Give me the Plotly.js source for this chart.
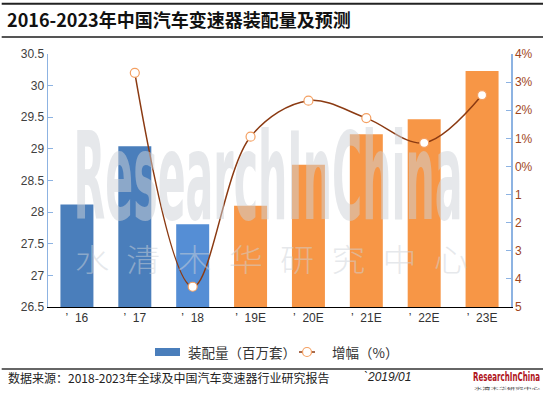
<!DOCTYPE html>
<html>
<head>
<meta charset="utf-8">
<script src="https://cdn.plot.ly/plotly-3.0.1.min.js"></script>
<style>
html,body{margin:0;padding:0;background:#fff;}
#chart{width:543px;height:399px;}
</style>
</head>
<body>
<div id="chart"></div>
<script>
// ---- data ----
var categories = ["’\u00a0\u00a016", "’\u00a0\u00a017", "’\u00a0\u00a018", "’\u00a0\u00a019E", "’\u00a0\u00a020E", "’\u00a0\u00a021E", "’\u00a0\u00a022E", "’\u00a0\u00a023E"];
var volume = [28.12, 29.04, 27.81, 28.10, 28.75, 29.23, 29.47, 30.23];   // 装配量（百万套）
var growth = [null, 3.33, -4.28, 1.06, 2.34, 1.72, 0.84, 2.54];          // 增幅（%）
var barColors = ["#4a7ebb", "#4a7ebb", "#558ed5", "#f79646", "#f79646", "#f79646", "#f79646", "#f79646"];
var leftTicks = [26.5, 27, 27.5, 28, 28.5, 29, 29.5, 30, 30.5];
var leftTickText = ["26.5", "27", "27.5", "28", "28.5", "29", "29.5", "30", "30.5"];
var rightTicks = [-5, -4, -3, -2, -1, 0, 1, 2, 3, 4];
var rightTickText = ["5", "4", "3", "2", "1", "0%", "1%", "2%", "3%", "4%"];
var seriesNames = ["装配量（百万套）", "增幅（%）"];

var titleText = "2016-2023年中国汽车变速器装配量及预测";
var sourceText = "数据来源：2018-2023年全球及中国汽车变速器行业研究报告";
var dateText = "`2019/01";

var data = [
  {
    type: "bar",
    name: seriesNames[0],
    x: categories,
    y: volume,
    marker: {color: barColors},
    width: 0.57,
    yaxis: "y",
    hoverinfo: "skip",
    showlegend: false
  },
  {
    type: "scatter",
    mode: "lines+markers",
    name: seriesNames[1],
    x: categories,
    y: growth,
    yaxis: "y2",
    line: {color: "#8b3a12", width: 1.5, shape: "spline", smoothing: 1},
    marker: {size: 9, color: "#ffffff", line: {color: "#f4a062", width: 1.2}},
    connectgaps: false,
    hoverinfo: "skip",
    showlegend: false
  }
];

var cjk = "'Noto Sans CJK SC', 'Liberation Sans', sans-serif";
var wmColor = "rgba(205,210,216,0.5)";
var cond = "DejaVu Sans Condensed";

var layout = {
  width: 543,
  height: 399,
  margin: {l: 48, r: 32, t: 54, b: 92},
  paper_bgcolor: "#ffffff",
  plot_bgcolor: "#ffffff",
  showlegend: false,
  title: {
    text: "<b>" + titleText + "</b>",
    font: {family: cjk, size: 18, color: "#111111"},
    x: 0.013, xref: "container", xanchor: "left",
    y: 0.948, yref: "container", yanchor: "middle"
  },
  xaxis: {
    type: "category",
    showline: true, linecolor: "#000000", linewidth: 1,
    ticks: "", showgrid: false, zeroline: false,
    tickfont: {family: "'Liberation Sans', Arial, sans-serif", size: 12, color: "#333333"},
    fixedrange: true
  },
  yaxis: {
    range: [26.5, 30.5],
    tickvals: leftTicks, ticktext: leftTickText,
    showline: true, linecolor: "#8db3e2", linewidth: 1.5,
    ticks: "inside", ticklen: 5, tickcolor: "#8db3e2", tickwidth: 1,
    showgrid: false, zeroline: false,
    tickfont: {family: "'Liberation Sans', Arial, sans-serif", size: 12, color: "#404040"},
    fixedrange: true
  },
  yaxis2: {
    overlaying: "y", side: "right",
    range: [-5, 4],
    tickvals: rightTicks, ticktext: rightTickText,
    showline: true, linecolor: "#8db3e2", linewidth: 1.5,
    ticks: "inside", ticklen: 5, tickcolor: "#8db3e2", tickwidth: 1,
    showgrid: false, zeroline: false,
    tickfont: {family: "'Liberation Sans', Arial, sans-serif", size: 12, color: "#a0451a"},
    fixedrange: true
  },
  shapes: [
    {type: "line", xref: "paper", yref: "paper", x0: -0.1, x1: 1.07, y0: 1.199, y1: 1.199, line: {color: "#222222", width: 2}},
    {type: "line", xref: "paper", yref: "paper", x0: -0.1, x1: 1.07, y0: 1.067, y1: 1.067, line: {color: "#555555", width: 2}},
    {type: "line", xref: "paper", yref: "paper", x0: -0.1, x1: 1.07, y0: -0.245, y1: -0.245, line: {color: "#333333", width: 1.5}},
    // legend: bar swatch
    {type: "rect", xref: "paper", yref: "paper", x0: 0.2311, x1: 0.2851, y0: -0.1937, y1: -0.1621, fillcolor: "#4a7ebb", line: {width: 0}},
    // legend: line + open circle
    {type: "line", xref: "paper", yref: "paper", x0: 0.5421, x1: 0.5767, y0: -0.1779, y1: -0.1779, line: {color: "#8b3a12", width: 1.5}},
    {type: "circle", xref: "paper", yref: "paper", x0: 0.5497, x1: 0.5691, y0: -0.1957, y1: -0.1601, fillcolor: "#ffffff", line: {color: "#f4a062", width: 1.2}}
  ],
  annotations: [
    {   // watermark (index 0)
      text: "ResearchInChina", xref: "paper", yref: "paper",
      x: 0.476, y: 0.528, xanchor: "center", yanchor: "middle", showarrow: false,
      font: {family: cond, size: 40, color: wmColor, weight: 700}
    },
    {   // watermark cjk (index 1)
      text: "水\u2002清\u2002木\u2002华\u2002研\u2002究\u2002中\u2002心", xref: "paper", yref: "paper",
      x: 0.482, y: 0.19, xanchor: "center", yanchor: "middle", showarrow: false,
      font: {family: cjk, size: 33, color: wmColor, weight: 300}
    },
    {
      text: sourceText, xref: "paper", yref: "paper",
      x: -0.0907, y: -0.2767, xanchor: "left", yanchor: "middle", showarrow: false,
      font: {family: cjk, size: 12, color: "#222222"}
    },
    {
      text: dateText, xref: "paper", yref: "paper",
      x: 0.678, y: -0.2767, xanchor: "left", yanchor: "middle", showarrow: false,
      font: {family: "'Liberation Sans', Arial, sans-serif", size: 12, color: "#222222", style: "italic"}
    },
    {   // logo (index 4)
      text: "ResearchInChina", xref: "paper", yref: "paper",
      x: 0.989, y: -0.268, xanchor: "center", yanchor: "middle", showarrow: false,
      font: {family: cond, size: 10, color: "#b0141c", weight: 700}
    },
    {   // logo sub (index 5)
      text: "水清木华研究中心", xref: "paper", yref: "paper",
      x: 0.989, y: -0.318, xanchor: "center", yanchor: "middle", showarrow: false,
      font: {family: cjk, size: 6, color: "#444444"}
    },
    {   // legend texts
      text: seriesNames[0], xref: "paper", yref: "paper",
      x: 0.2981, y: -0.1779, xanchor: "left", yanchor: "middle", showarrow: false,
      font: {family: cjk, size: 13.5, color: "#333333"}
    },
    {
      text: seriesNames[1], xref: "paper", yref: "paper",
      x: 0.6091, y: -0.1779, xanchor: "left", yanchor: "middle", showarrow: false,
      font: {family: cjk, size: 13.5, color: "#333333"}
    }
  ]
};

var cv = document.createElement('canvas').getContext('2d');

// map the visible glyph box of an annotation text onto a target pixel box
function fitGlyphs(gd, idx, fontCss, X0, Y0, X1, Y1) {
  try {
    var t = gd.querySelector('.annotation[data-index="' + idx + '"] text');
    if (!t) return;
    var bb = t.getBBox();
    var r = t.getBoundingClientRect();
    var gr = gd.getBoundingClientRect();
    var offX = (r.left - gr.left) - bb.x, offY = (r.top - gr.top) - bb.y;
    cv.font = fontCss;
    var m = cv.measureText(t.textContent);
    var fa = m.fontBoundingBoxAscent, fd = m.fontBoundingBoxDescent;
    var baseline = bb.y + bb.height * fa / (fa + fd);
    var gx0 = bb.x - m.actualBoundingBoxLeft, gx1 = bb.x + m.actualBoundingBoxRight;
    var gy0 = baseline - m.actualBoundingBoxAscent, gy1 = baseline + m.actualBoundingBoxDescent;
    if (!(gx1 > gx0) || !(gy1 > gy0)) return;
    var sx = (X1 - X0) / (gx1 - gx0), sy = (Y1 - Y0) / (gy1 - gy0);
    var ax = X0 - offX, ay = Y0 - offY;
    t.setAttribute('transform', 'translate(' + ax + ',' + ay + ') scale(' + sx + ',' + sy + ') translate(' + (-gx0) + ',' + (-gy0) + ')');
  } catch (e) {}
}

Plotly.newPlot('chart', data, layout, {staticPlot: true, displayModeBar: false}).then(function (gd) {
  fitGlyphs(gd, 0, "bold 40px 'DejaVu Sans Condensed'", 77, 125, 460, 222);
  fitGlyphs(gd, 1, "300 33px 'Noto Sans CJK SC'", 76, 244, 467, 275);
  fitGlyphs(gd, 4, "bold 10px 'DejaVu Sans Condensed'", 473, 371.5, 540, 381);
  fitGlyphs(gd, 5, "6px 'Noto Sans CJK SC'", 474, 386, 540, 391);
});
</script>
</body>
</html>
